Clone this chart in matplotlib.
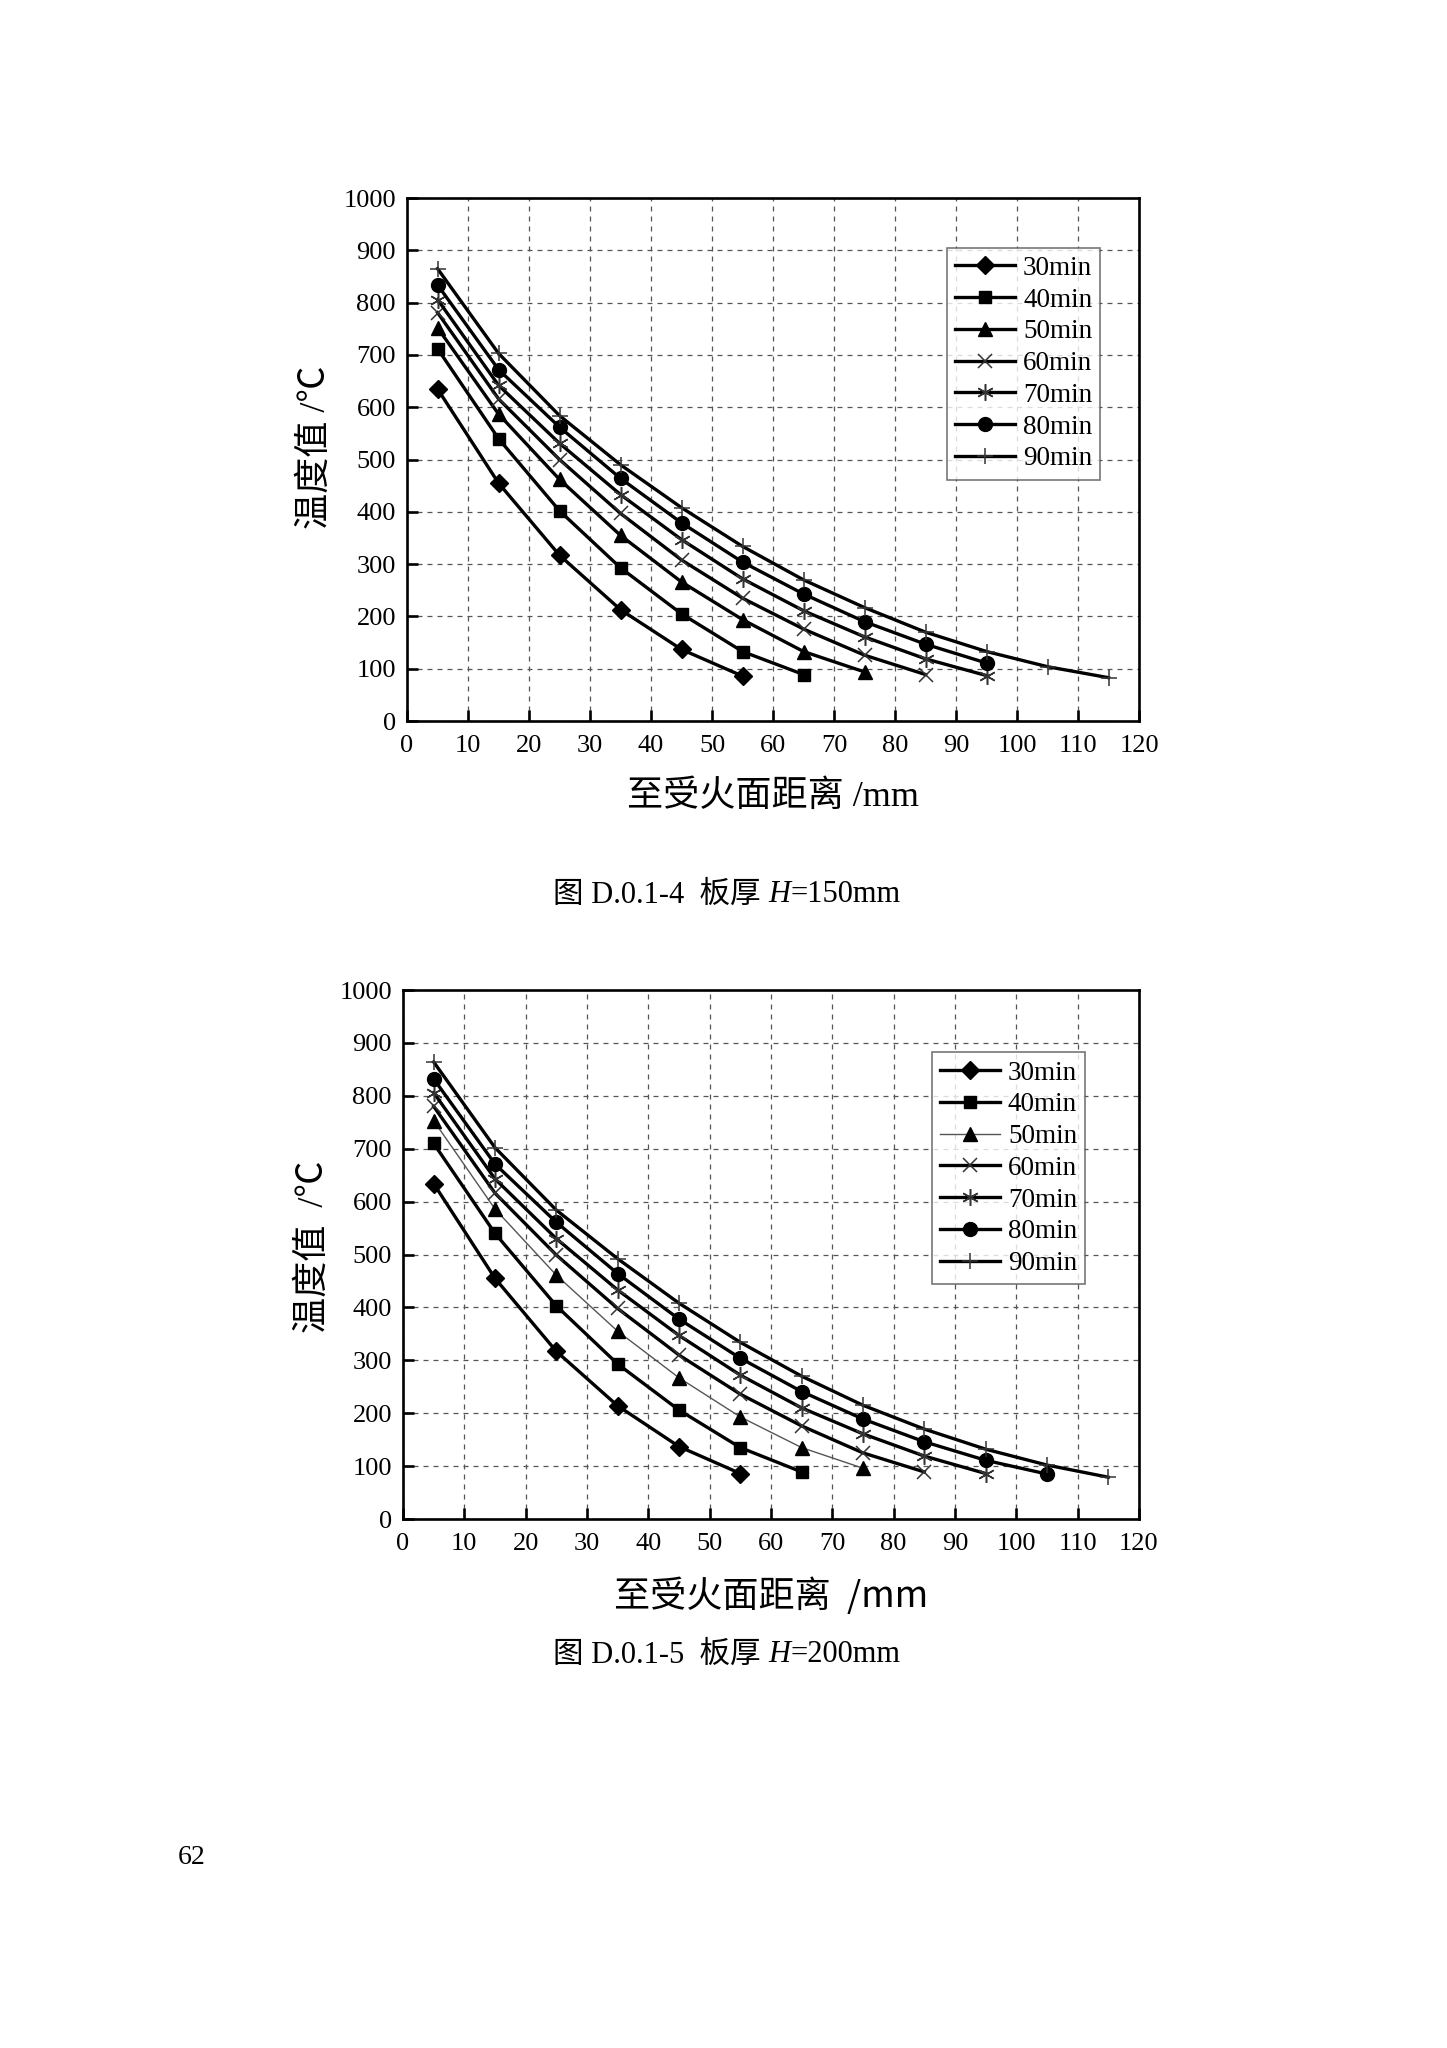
import matplotlib

matplotlib.use("Agg")
import matplotlib.pyplot as plt
from matplotlib.offsetbox import AnchoredOffsetbox, HPacker, TextArea

# distance from the fire-exposed surface (mm)
DIST = [5, 15, 25, 35, 45, 55, 65, 75, 85, 95, 105, 115]
TIMES = ["30min", "40min", "50min", "60min", "70min", "80min", "90min"]

# slab H=150mm
T150_30 = [635, 455, 317, 213, 137, 86]
T150_40 = [712, 540, 402, 293, 205, 133, 89]
T150_50 = [752, 587, 462, 355, 266, 194, 133, 94]
T150_60 = [781, 616, 500, 397, 308, 235, 176, 126, 89]
T150_70 = [806, 642, 531, 433, 347, 272, 211, 161, 119, 87]
T150_80 = [834, 672, 562, 464, 379, 304, 243, 190, 147, 111]
T150_90 = [865, 703, 584, 490, 408, 334, 270, 217, 170, 133, 104, 83]

# slab H=200mm
T200_30 = [634, 455, 317, 214, 137, 86]
T200_40 = [710, 540, 403, 293, 206, 135, 89]
T200_50 = [753, 586, 461, 355, 267, 193, 135, 96]
T200_60 = [780, 616, 499, 398, 310, 236, 176, 125, 89]
T200_70 = [806, 643, 530, 433, 347, 272, 210, 161, 119, 86]
T200_80 = [832, 671, 561, 464, 378, 304, 241, 189, 146, 111, 85]
T200_90 = [864, 702, 584, 492, 408, 334, 270, 215, 170, 132, 102, 79]

SERIES_150 = [T150_30, T150_40, T150_50, T150_60, T150_70, T150_80, T150_90]
SERIES_200 = [T200_30, T200_40, T200_50, T200_60, T200_70, T200_80, T200_90]

SERIF = ["Liberation Serif", "Noto Sans CJK SC"]
CJK = ["Noto Sans CJK SC", "Liberation Serif"]

plt.rcParams.update({
    "font.family": SERIF,
    "axes.linewidth": 1.9,
})

# marker styles per series: (marker, size, edge width, colour)
STYLES = [
    ("D", 9, 1.0, "black"),
    ("s", 8.5, 1.0, "black"),
    ("^", 10, 1.0, "black"),
    ("x", 10, 1.1, "#333333"),
    ((6, 2, 0), 12, 1.1, "#333333"),
    ("o", 10, 1.0, "black"),
    ("+", 12, 1.1, "#333333"),
]

fig = plt.figure(figsize=(14.47, 20.48), dpi=100)
ax1 = fig.add_axes([0.2813, 0.6479, 0.5059, 0.2554])
ax2 = fig.add_axes([0.2785, 0.2583, 0.5086, 0.2583])


def draw(ax, series, thin=None):
    for i, (vals, lab) in enumerate(zip(series, TIMES)):
        m, ms, mew, mc = STYLES[i]
        lw, lc = 2.4, "black"
        if thin == i:
            lw, lc = 1.0, "#555555"
        ax.plot(DIST[:len(vals)], vals, color=lc, lw=lw, marker=m, ms=ms,
                mew=mew, mfc=mc, mec=mc, label=lab, zorder=3)
    ax.set_xlim(0, 120)
    ax.set_ylim(0, 1000)
    ax.set_xticks(range(0, 121, 10))
    ax.set_yticks(range(0, 1001, 100))
    ax.grid(True, color="#555555", lw=0.9, ls=(0, (4, 4)), zorder=0)
    ax.tick_params(direction="in", length=8, width=1.9, labelsize=19)
    ax.tick_params(axis="x", pad=10)
    ax.tick_params(axis="y", pad=8)
    for t in ax.get_xticklabels() + ax.get_yticklabels():
        t.set_fontfamily("Liberation Serif")
    leg = ax.legend(frameon=True, fancybox=False, edgecolor="#555555",
                    fontsize=19.5, handlelength=2.2, handletextpad=0.3,
                    labelspacing=0.25, borderpad=0.3, borderaxespad=0,
                    loc="upper right")
    leg.get_frame().set_linewidth(1.2)
    return leg


def caption(y, num, val):
    parts = [
        TextArea(f"图 D.0.1-{num}  板厚 ", textprops=dict(fontsize=22, family=SERIF)),
        TextArea("H", textprops=dict(fontsize=22, family="Liberation Serif", style="italic")),
        TextArea(f"={val}mm", textprops=dict(fontsize=22, family="Liberation Serif")),
    ]
    box = HPacker(children=parts, align="baseline", pad=0, sep=0)
    anch = AnchoredOffsetbox(loc="center", child=box, frameon=False, pad=0,
                             borderpad=0, bbox_to_anchor=(727 / 1447, y),
                             bbox_transform=fig.transFigure)
    fig.add_artist(anch)


leg1 = draw(ax1, SERIES_150)
leg1.set_bbox_to_anchor((0.947, 0.905), transform=ax1.transAxes)
ax1.set_xlabel("至受火面距离 /mm", fontsize=26, family=SERIF)
ax1.set_ylabel("温度值 /℃", fontsize=26, family=SERIF)
ax1.xaxis.set_label_coords(0.5, -0.113)
ax1.yaxis.set_label_coords(-0.102, 0.524)

leg2 = draw(ax2, SERIES_200, thin=2)
leg2.set_bbox_to_anchor((0.927, 0.882), transform=ax2.transAxes)
ax2.set_xlabel("至受火面距离  /mm", fontsize=26, family=CJK)
ax2.set_ylabel("温度值  /℃", fontsize=26, family=SERIF)
ax2.xaxis.set_label_coords(0.5, -0.11)
ax2.yaxis.set_label_coords(-0.098, 0.514)

caption(1 - 895 / 2048, 4, 150)
caption(1 - 1655 / 2048, 5, 200)
fig.text(192 / 1447, 1 - 1858 / 2048, "62", ha="center", va="center",
         fontsize=20, family=SERIF)

fig.savefig("out.png", dpi=100)
plt.close(fig)
